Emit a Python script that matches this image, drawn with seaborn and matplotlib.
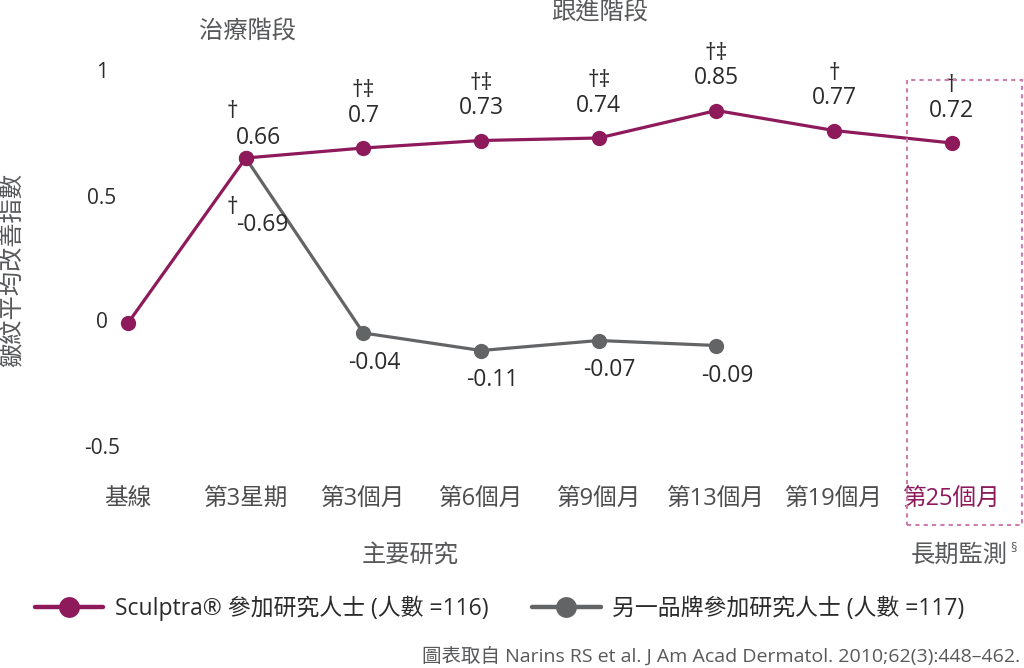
import numpy as np
import pandas as pd
import matplotlib
matplotlib.use('Agg')
import matplotlib.pyplot as plt
import seaborn as sns
from matplotlib.patches import Rectangle
from matplotlib.lines import Line2D

# data
periods = ['基線', '第3星期', '第3個月', '第6個月', '第9個月', '第13個月', '第19個月', '第25個月']
sculptra = [0, 0.66, 0.70, 0.73, 0.74, 0.85, 0.77, 0.72]
sculptra_labels = ['', '0.66', '0.7', '0.73', '0.74', '0.85', '0.77', '0.72']
sculptra_marks = ['', '†', '†‡', '†‡', '†‡', '†‡', '†', '†']
# the other brand starts from the shared week-3 point
other = [np.nan, 0.66, -0.04, -0.11, -0.07, -0.09, np.nan, np.nan]
other_labels = ['', '-0.69', '-0.04', '-0.11', '-0.07', '-0.09', '', '']
other_marks = ['', '†', '', '', '', '', '', '']
yticks = [1, 0.5, 0, -0.5]
ytick_labels = ['1', '0.5', '0', '-0.5']

PURPLE = '#8E1A5C'
GREY = '#636466'
TXT = '#2B2B2B'
SUB = '#58595B'

sns.set_theme(style='white')
plt.rcParams['font.family'] = ['Open Sans', 'Noto Sans CJK TC', 'DejaVu Sans']

W, H = 1024, 668
fig = plt.figure(figsize=(W / 100, H / 100), dpi=100)
ax = fig.add_axes([57.4 / W, 1 - 485.5 / H, 965 / W, 450 / H])

df = pd.DataFrame({'pos': range(len(periods)), 'sculptra': sculptra, 'other': other})

sns.lineplot(data=df.dropna(subset=['other']), x='pos', y='other', ax=ax, color=GREY,
             marker='o', markersize=11, markeredgewidth=0, linewidth=2.3, zorder=2)
sns.lineplot(data=df, x='pos', y='sculptra', ax=ax, color=PURPLE,
             marker='o', markersize=11, markeredgewidth=0, linewidth=2.3, zorder=3)

ax.set_xlim(-0.6, 7.6)
ax.set_ylim(-0.65, 1.15)
for s in ax.spines.values():
    s.set_visible(False)
ax.set_xlabel('')
ax.set_ylabel('')
ax.set_yticks([])
ax.set_xticks(range(len(periods)))
ax.set_xticklabels(periods, fontsize=17, color='#4D4D4F')
ax.get_xticklabels()[-1].set_color(PURPLE)
ax.tick_params(axis='x', length=0, pad=1)

for v, lab in zip(yticks, ytick_labels):
    ax.text(-0.22, v, lab, ha='center', va='center', fontsize=15, color=TXT)

NUM = 16.5
for i, (v, lab, mk) in enumerate(zip(sculptra, sculptra_labels, sculptra_marks)):
    if not lab:
        continue
    if i == 1:
        ax.annotate(lab, (i, v), xytext=(13, 20), textcoords='offset pixels',
                    ha='center', va='center', fontsize=NUM, color=TXT)
        ax.annotate(mk, (i, v), xytext=(-13, 46), textcoords='offset pixels',
                    ha='center', va='center', fontsize=NUM, color=TXT)
    else:
        ax.annotate(lab, (i, v), xytext=(0, 32), textcoords='offset pixels',
                    ha='center', va='center', fontsize=NUM, color=TXT)
        ax.annotate(mk, (i, v), xytext=(0, 57), textcoords='offset pixels',
                    ha='center', va='center', fontsize=NUM, color=TXT)

for i, (v, lab, mk) in enumerate(zip(other, other_labels, other_marks)):
    if not lab:
        continue
    if i == 1:
        ax.annotate(lab, (i, v), xytext=(17, -67), textcoords='offset pixels',
                    ha='center', va='center', fontsize=NUM, color=TXT)
        ax.annotate(mk, (i, v), xytext=(-13, -50), textcoords='offset pixels',
                    ha='center', va='center', fontsize=NUM, color=TXT)
    else:
        ax.annotate(lab, (i, v), xytext=(11, -30), textcoords='offset pixels',
                    ha='center', va='center', fontsize=NUM, color=TXT)


def ftext(x, y, s, **kw):
    fig.text(x / W, 1 - y / H, s, **kw)


ftext(248, 33, '治療階段', ha='center', va='center', fontsize=17.5, color=SUB)
ftext(600, 13, '跟進階段', ha='center', va='center', fontsize=17.5, color=SUB)
ftext(410, 556, '主要研究', ha='center', va='center', fontsize=17.5, color=SUB)
ftext(1008, 556, '長期監測', ha='right', va='center', fontsize=17.5, color=SUB)
ftext(1010, 549, '§', ha='left', va='center', fontsize=9, color=SUB)
ftext(14, 270, '皺紋平均改善指數', ha='center', va='center', fontsize=17.5, color=SUB, rotation=90)
ftext(1020, 656, '圖表取自 Narins RS et al. J Am Acad Dermatol. 2010;62(3):448–462.',
      ha='right', va='center', fontsize=14, color=SUB)

fig.patches.append(Rectangle((907 / W, 1 - 525 / H), 115 / W, 445 / H, transform=fig.transFigure,
                             fill=False, edgecolor='#CC7FAD', linewidth=1.5, linestyle=(0, (2, 2))))

handles = [Line2D([], [], color=PURPLE, marker='o', markersize=15, markeredgewidth=0, linewidth=3.2),
           Line2D([], [], color=GREY, marker='o', markersize=15, markeredgewidth=0, linewidth=3.2)]
fig.legend(handles, ['Sculptra® 參加研究人士 (人數 =116)', '另一品牌參加研究人士 (人數 =117)'],
           loc='center left', bbox_to_anchor=(14 / W, 1 - 608 / H), ncol=2, frameon=False,
           fontsize=16.5, handlelength=3.0, handletextpad=0.5, columnspacing=1.9,
           labelcolor=TXT)

fig.savefig('out.png', dpi=100)
